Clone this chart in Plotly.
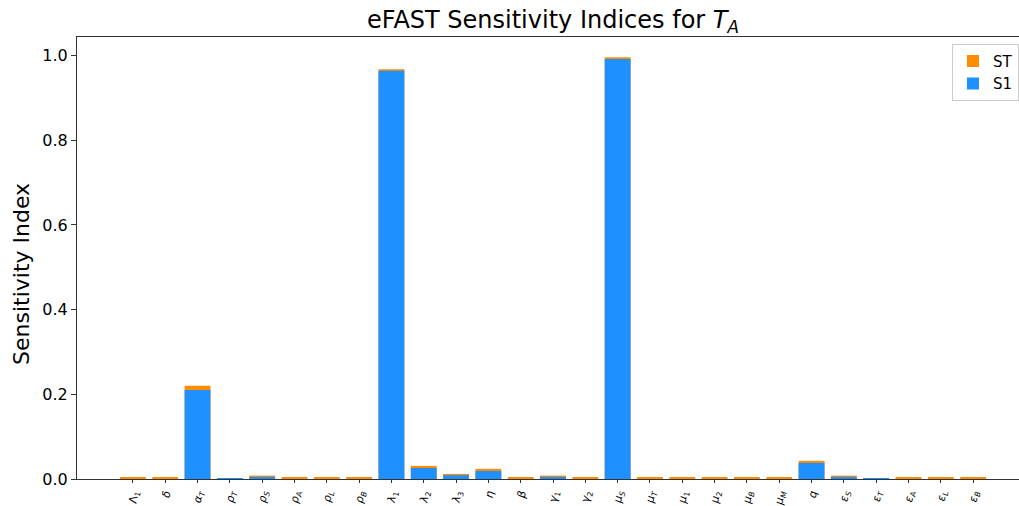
import plotly.graph_objects as go

params = [
    "Λ<sub>1</sub>", "<i>δ</i>", "<i>α<sub>T</sub></i>", "<i>ρ<sub>T</sub></i>", "<i>ρ<sub>S</sub></i>",
    "<i>ρ<sub>A</sub></i>", "<i>ρ<sub>L</sub></i>", "<i>ρ<sub>B</sub></i>", "<i>λ</i><sub>1</sub>",
    "<i>λ</i><sub>2</sub>", "<i>λ</i><sub>3</sub>", "<i>η</i>", "<i>β</i>", "<i>γ</i><sub>1</sub>",
    "<i>γ</i><sub>2</sub>", "<i>μ<sub>S</sub></i>", "<i>μ<sub>T</sub></i>", "<i>μ</i><sub>1</sub>",
    "<i>μ</i><sub>2</sub>", "<i>μ<sub>B</sub></i>", "<i>μ<sub>M</sub></i>", "<i>q</i>",
    "<i>ε<sub>S</sub></i>", "<i>ε<sub>T</sub></i>", "<i>ε<sub>A</sub></i>", "<i>ε<sub>L</sub></i>",
    "<i>ε<sub>B</sub></i>",
]
st = [0.003, 0.003, 0.220, 0.0005, 0.008, 0.003, 0.003, 0.003, 0.968,
      0.031, 0.012, 0.024, 0.003, 0.008, 0.003, 0.996, 0.003, 0.003,
      0.003, 0.003, 0.003, 0.043, 0.008, 0.0005, 0.003, 0.003, 0.003]
s1 = [0.0, 0.0, 0.210, 0.0005, 0.005, 0.0, 0.0, 0.0, 0.964,
      0.026, 0.009, 0.019, 0.0, 0.005, 0.0, 0.992, 0.0, 0.0,
      0.0, 0.0, 0.0, 0.038, 0.005, 0.0005, 0.0, 0.0, 0.0]
yticks = [0.0, 0.2, 0.4, 0.6, 0.8, 1.0]

x = list(range(len(params)))

fig = go.Figure()
fig.add_trace(go.Bar(x=x, y=st, name="ST", marker=dict(color="#FF8C00", line=dict(width=0)), width=0.8))
fig.add_trace(go.Bar(x=x, y=s1, name="S1", marker=dict(color="#1E90FF", line=dict(width=0)), width=0.8))

fig.update_layout(
    width=1019, height=506,
    barmode="overlay",
    plot_bgcolor="white", paper_bgcolor="white",
    font=dict(family="DejaVu Sans", color="black"),
    margin=dict(l=77, r=0, t=37, b=27, autoexpand=False),
    title=dict(text="eFAST Sensitivity Indices for <i>T<sub>A</sub></i>", x=(553 - 77) / 942, xref="paper",
               xanchor="center", y=1 - 20 / 506, yanchor="middle", font=dict(size=24)),
    legend=dict(x=(952 - 77) / 942, xanchor="left", y=0.985, yanchor="top",
                traceorder="normal", bgcolor="white", bordercolor="#cccccc", borderwidth=1,
                font=dict(size=15)),
    showlegend=True,
)
fig.add_annotation(
    text="Sensitivity Index", textangle=-90, showarrow=False,
    xref="paper", yref="paper", x=(21 - 77) / 942, y=(479 - 274) / 442,
    xanchor="center", yanchor="middle", font=dict(size=22),
)
fig.update_xaxes(
    range=[-1.73, 27.42], tickmode="array", tickvals=x, ticktext=params, tickangle=-80,
    tickfont=dict(size=11), ticks="outside", ticklen=3, tickcolor="#333",
    showline=True, linecolor="#333", linewidth=1, mirror=True, showgrid=False, zeroline=False,
    automargin=False,
)
fig.update_yaxes(
    range=[0, 1.044], tickmode="array", tickvals=yticks, ticktext=[f"{v:.1f}" for v in yticks],
    tickfont=dict(size=16), ticks="outside", ticklen=5, tickcolor="#333",
    showline=True, linecolor="#333", linewidth=1, mirror=True, showgrid=False, zeroline=False,
    automargin=False,
)

fig.write_html("out.html")
